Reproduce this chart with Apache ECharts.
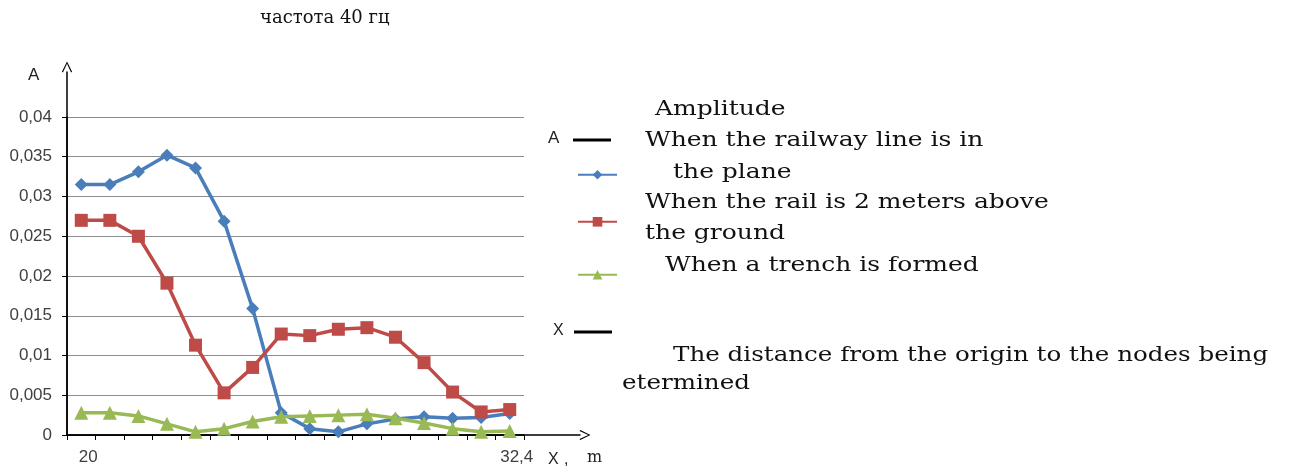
<!DOCTYPE html>
<html><head><meta charset="utf-8">
<script src="https://cdn.jsdelivr.net/npm/echarts@6/dist/echarts.min.js"></script>
<style>html,body{margin:0;padding:0;background:#fff}#c{width:1290px;height:473px}</style>
</head><body><div id="c"></div>
<script>
const xLabels = ['20','','','','','','','','','','','','','','','32,4'];
const seriesNames = ['When the railway line is in the plane','When the rail is 2 meters above the ground','When a trench is formed'];
const railPlane = [0.0315,0.0315,0.0331,0.0352,0.0336,0.0269,0.0159,0.0028,0.0008,0.0004,0.0014,0.0020,0.0023,0.0021,0.0022,0.0027];
const railAbove = [0.0270,0.0270,0.0250,0.0191,0.0113,0.0053,0.0085,0.0127,0.0125,0.0133,0.0135,0.0123,0.0091,0.0054,0.0029,0.0032];
const trench = [0.0028,0.0028,0.0024,0.0014,0.0004,0.0008,0.0017,0.0023,0.0024,0.0025,0.0026,0.0021,0.0015,0.0008,0.0004,0.0005];
const colors = ['#4a7ebb','#be4b48','#98b954'];
const symbols = ['diamond','rect','triangle'];
const symbolSizes = [13, 13, 14];

const chevron = 'path://M0,10 L5,0 L10,10 L9,10.8 L5,2.2 L1,10.8 Z';
const serif = '"DejaVu Serif","Liberation Serif",serif';
const sans = '"Liberation Sans", Arial, sans-serif';

const chart = echarts.init(document.getElementById('c'), null, {renderer:'canvas'});
const mkSeries = (i, data) => ({
  name: seriesNames[i], type: 'line', data: data, xAxisIndex: 0, yAxisIndex: 0,
  symbol: symbols[i], symbolSize: symbolSizes[i],
  lineStyle: {width: 3.5, color: colors[i]}, itemStyle: {color: colors[i]},
  z: 3 + i, animation: false
});
const legendAt = (i, top) => ({
  data: [seriesNames[i]], left: 572, top: top, itemWidth: 39, itemHeight: 12,
  formatter: () => ' ', selectedMode: false, textStyle: {fontSize: 1}
});
const txt = (text, left, top, size, font, color, sx) =>
  ({type: 'text', left: left, top: top, scaleX: sx || 1,
    style: {text: text, font: size + 'px ' + font, fill: color || '#111'}});

chart.setOption({
  animation: false,
  backgroundColor: '#fff',
  grid: [
    {left: 67, right: 766, top: 117, bottom: 38},
    {left: 67, right: 710, top: 72, bottom: 38}
  ],
  xAxis: [
    {type: 'category', gridIndex: 0, data: xLabels, boundaryGap: true,
     axisLine: {show: true, lineStyle: {color: '#000', width: 1.5}},
     axisTick: {show: true, length: 5, lineStyle: {color: '#000'}},
     axisLabel: {interval: 0, margin: 14, color: '#404040', fontSize: 17,
       fontFamily: sans, padding: [0,0,0,14]},
     splitLine: {show: false}},
    {type: 'value', gridIndex: 1, min: 0, max: 1,
     axisLine: {show: true, symbol: ['none', chevron], symbolSize: [13, 11], symbolOffset: [0, 5],
       lineStyle: {color: '#000', width: 1.5}},
     axisTick: {show: false}, axisLabel: {show: false}, splitLine: {show: false}}
  ],
  yAxis: [
    {type: 'value', gridIndex: 0, min: 0, max: 0.04, interval: 0.005,
     axisLine: {show: true, lineStyle: {color: '#000', width: 1.5}},
     axisTick: {show: true, length: 5, lineStyle: {color: '#000'}},
     axisLabel: {margin: 15, color: '#404040', fontSize: 17, fontFamily: sans,
       formatter: v => v === 0 ? '0' : String(+v.toFixed(3)).replace('.', ',')},
     splitLine: {show: true, lineStyle: {color: '#8c8c8c', width: 1}}},
    {type: 'value', gridIndex: 1, min: 0, max: 1,
     axisLine: {show: true, symbol: ['none', chevron], symbolSize: [12, 11], symbolOffset: [0, 5],
       lineStyle: {color: '#000', width: 1.5}},
     axisTick: {show: false}, axisLabel: {show: false}, splitLine: {show: false}}
  ],
  legend: [legendAt(0, 165), legendAt(1, 212), legendAt(2, 265)],
  series: [mkSeries(0, railPlane), mkSeries(1, railAbove), mkSeries(2, trench)],
  graphic: [
    txt('частота 40 гц', 260, 9, 18, serif),
    txt('A', 28, 67, 17, sans, '#222'),
    txt('X', 548, 452, 16, sans, '#222'),
    txt(',', 564, 452, 16, sans, '#222'),
    txt('m', 587, 450, 16, serif, '#222'),
    txt('A', 548, 130, 17, sans, '#222'),
    {type: 'line', shape: {x1: 573, y1: 140, x2: 611, y2: 140}, style: {stroke: '#000', lineWidth: 3}},
    txt('X', 553, 323, 16, sans, '#222'),
    {type: 'line', shape: {x1: 574, y1: 332, x2: 612, y2: 332}, style: {stroke: '#000', lineWidth: 3}},
    txt('Amplitude', 655, 99, 21, serif, '#111', 1.19),
    txt('When the railway line is in', 645, 130, 21, serif, '#111', 1.19),
    txt('the plane', 673, 162, 21, serif, '#111', 1.19),
    txt('When the rail is 2 meters above', 645, 192, 21, serif, '#111', 1.19),
    txt('the ground', 645, 223, 21, serif, '#111', 1.19),
    txt('When a trench is formed', 665, 255, 21, serif, '#111', 1.19),
    txt('The distance from the origin to the nodes being', 673, 345, 21, serif, '#111', 1.17),
    txt('etermined', 622, 373, 21, serif, '#111', 1.17)
  ]
});
</script></body></html>
